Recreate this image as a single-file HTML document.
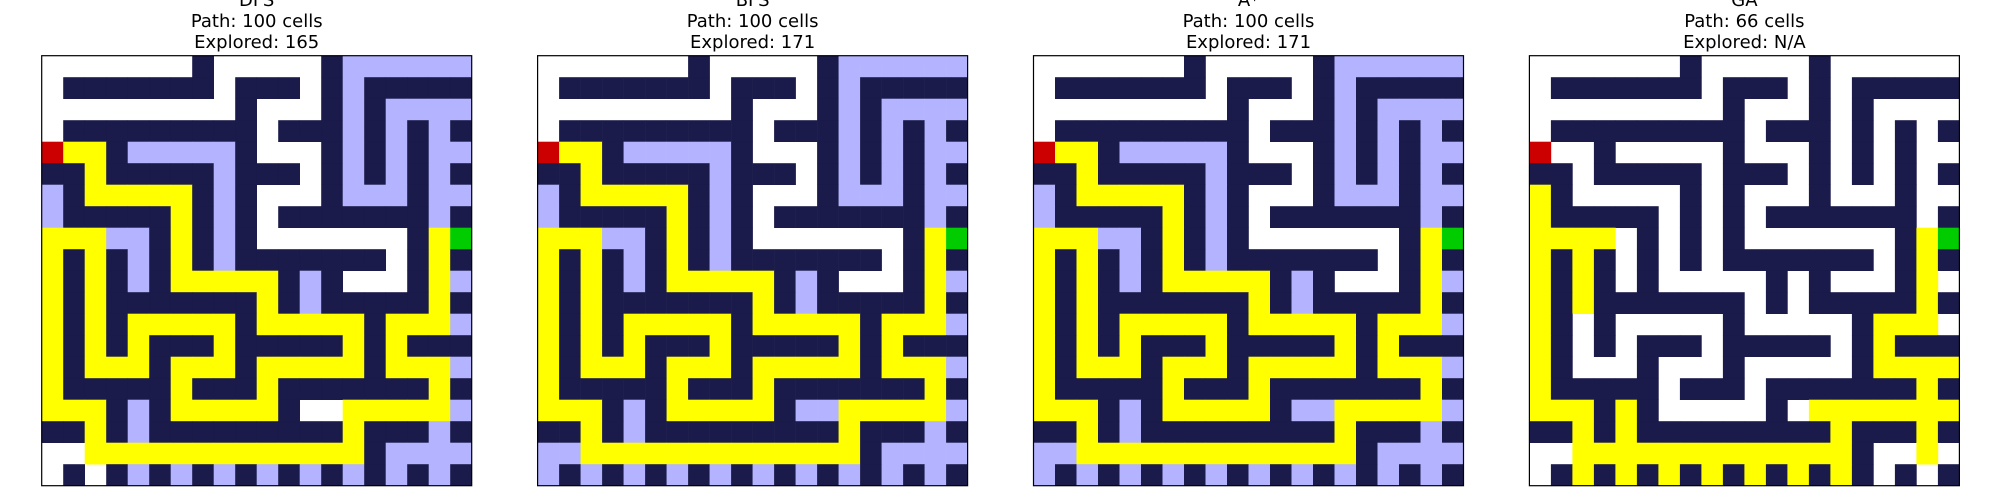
<!DOCTYPE html>
<html><head><meta charset="utf-8"><style>
html,body{margin:0;padding:0;background:#fff;width:2000px;height:500px;overflow:hidden}
svg{display:block}
</style></head><body>
<svg id="chart" width="2000" height="500" xmlns="http://www.w3.org/2000/svg"></svg>
<script>
// Base maze: W = wall, . = open
const baseMaze = [
".......W.....W......",
".WWWWWWW.WWW.W.WWWWW",
".........W...W.W....",
".WWWWWWWWW.WWW.W.W.W",
"...W.....W...W.W.W..",
"WW.WWWWW.WWW.W.W.W.W",
".W.....W.W...W...W..",
".WWWWW.W.W.WWWWWWW.W",
".....W.W.W.......W..",
".W.W.W.W.WWWWWWW.W.W",
".W.W.W.....W.W...W..",
".W.WWWWWWW.W.WWWWW.W",
".W.W.....W.....W....",
".W.W.WWW.WWWWW.W.WWW",
".W...W...W.....W....",
".WWWWW.WWW.WWWWWWW.W",
"...W.W.....W........",
"WW.W.WWWWWWWWW.WWW.W",
"...............W....",
".W.W.W.W.W.W.W.W.W.W"
];
// Overlays: P = path, E = explored, S = start, G = goal
const dfsOverlay = [
"..............EEEEEE",
"..............E.....",
"..............E.EEEE",
"..............E.E.E.",
"SPP.EEEEE.....E.E.EE",
"..P.....E.....E.E.E.",
"E.PPPPP.E.....EEE.EE",
"E.....P.E.........E.",
"PPPEE.P.E.........PG",
"P.P.E.P.E.........P.",
"P.P.E.PPPPP.E.....PE",
"P.P.......P.E.....P.",
"P.P.PPPPP.PPPPP.PPPE",
"P.P.P...P.....P.P...",
"P.PPP.PPP.PPPPP.PPPE",
"P.....P...P.......P.",
"PPP.E.PPPPP...PPPPPE",
"..P.E.........P...E.",
"..PPPPPPPPPPPPP.EEEE",
"....E.E.E.E.E.E.E.E."
];
const bfsOverlay = [
"..............EEEEEE",
"..............E.....",
"..............E.EEEE",
"..............E.E.E.",
"SPP.EEEEE.....E.E.EE",
"..P.....E.....E.E.E.",
"E.PPPPP.E.....EEE.EE",
"E.....P.E.........E.",
"PPPEE.P.E.........PG",
"P.P.E.P.E.........P.",
"P.P.E.PPPPP.E.....PE",
"P.P.......P.E.....P.",
"P.P.PPPPP.PPPPP.PPPE",
"P.P.P...P.....P.P...",
"P.PPP.PPP.PPPPP.PPPE",
"P.....P...P.......P.",
"PPP.E.PPPPP.EEPPPPPE",
"..P.E.........P...E.",
"EEPPPPPPPPPPPPP.EEEE",
"E.E.E.E.E.E.E.E.E.E."
];
const gaOverlay = [
"....................",
"....................",
"....................",
"....................",
"S...................",
"....................",
"P...................",
"P...................",
"PPPP..............PG",
"P.P...............P.",
"P.P...............P.",
"P.P...............P.",
"P...............PPP.",
"P...............P...",
"P...............PPPP",
"P.................P.",
"PPP.P........PPPPPPP",
"..P.P.........P...P.",
"..PPPPPPPPPPPPP...P.",
"..P.P.P.P.P.P.P....."
];
const panelNames = ["DFS","BFS","A*","GA"];
const pathLengths = ["100","100","100","66"];
const exploredCounts = ["165","171","171","N/A"];
const overlays = [dfsOverlay, bfsOverlay, bfsOverlay, gaOverlay];

const NS = "http://www.w3.org/2000/svg";
const svg = document.getElementById('chart');
const panelX0 = 41.7, panelStep = 495.9, panelY0 = 55.7, panelSize = 430;
const colors = {W:"#1b1b4b", E:"#b3b3ff", P:"#ffff00", S:"#cc0000", G:"#00cc00", ".":"#ffffff"};
function mk(tag, attrs){ const e=document.createElementNS(NS,tag); for(const k in attrs) e.setAttribute(k,attrs[k]); return e; }

panelNames.forEach((name, p) => {
  const g = mk('g', {});
  
  
  svg.appendChild(g);
  const x0 = panelX0 + p*panelStep;
  const n = baseMaze.length;
  const cs = panelSize / n;
  const ov = overlays[p];
  for (let r=0;r<n;r++){
    for (let c=0;c<n;c++){
      let t = ov[r][c];
      if (t === '.' || t === undefined) t = (baseMaze[r][c] === 'W') ? 'W' : '.';
      if (t === '.') continue;
      const rect = mk('rect', {x:(x0+c*cs).toFixed(2), y:(panelY0+r*cs).toFixed(2), width:(cs+0.3).toFixed(2), height:(cs+0.3).toFixed(2), fill:colors[t]});
      
      
      g.appendChild(rect);
    }
  }
  const border = mk('rect', {x:x0, y:panelY0, width:panelSize, height:panelSize, fill:'none', stroke:'#000', 'stroke-width':1.2});
  
  
  g.appendChild(border);
  const cx = x0 + panelSize/2;
  const lines = [name, 'Path: ' + pathLengths[p] + ' cells', 'Explored: ' + exploredCounts[p]];
  const ys = [6, 27, 48];
  lines.forEach((txt, i) => {
    const t = mk('text', {x:cx, y:ys[i], 'text-anchor':'middle', 'font-family':'DejaVu Sans, Liberation Sans, sans-serif', 'font-size':'18', fill:'#000'});
    
    
    t.textContent = txt;
    g.appendChild(t);
  });
});
</script>
</body></html>
